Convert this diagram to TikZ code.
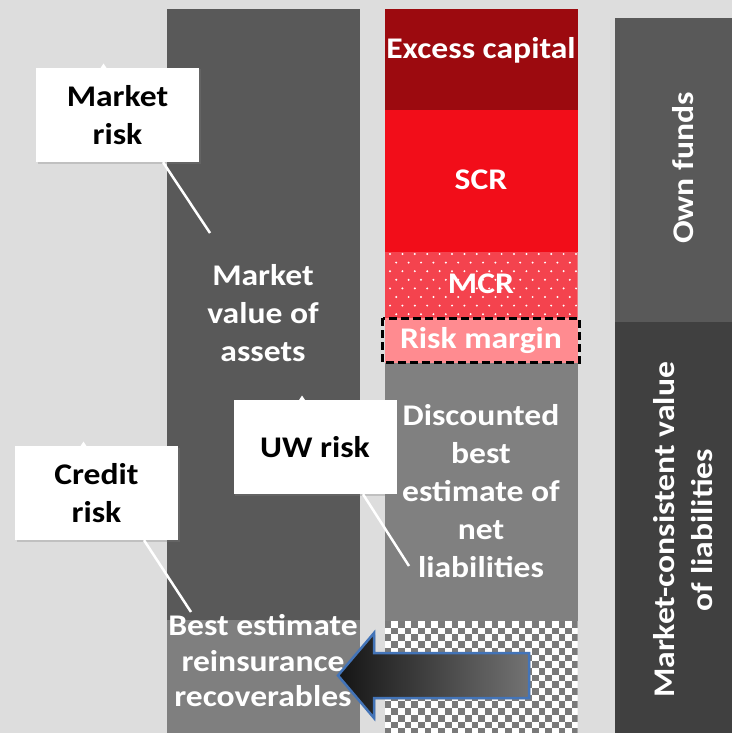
\documentclass[tikz,border=0pt]{standalone}
\usepackage{fontspec}
\setmainfont{Carlito}[FakeStretch=1.12]
\usetikzlibrary{shadows,calc}
\definecolor{bg}{HTML}{DDDDDD}
\definecolor{assetgray}{HTML}{595959}
\definecolor{recogray}{HTML}{7F7F7F}
\definecolor{excessred}{HTML}{9C0A0F}
\definecolor{scrred}{HTML}{F20D19}
\definecolor{mcrred}{HTML}{F4434E}
\definecolor{riskpink}{HTML}{FF8B90}
\definecolor{dbegray}{HTML}{808080}
\definecolor{chkgray}{HTML}{7A7A7A}
\definecolor{owngray}{HTML}{595959}
\definecolor{mcvgray}{HTML}{404040}
\definecolor{arrowblue}{HTML}{4374B8}
\begin{document}
\begin{tikzpicture}[x=1pt,y=-1pt,
  lbl/.style={text=white, font=\fontsize{30}{38}\selectfont\bfseries, align=center, inner sep=0pt},
  callout/.style={fill=white, minimum width=163pt, minimum height=94pt, align=center,
    text=black, font=\fontsize{30}{38}\selectfont\bfseries, inner sep=0pt,
    drop shadow={shadow xshift=1.5pt, shadow yshift=-1.5pt, opacity=0.3}},
  leader/.style={draw=white, line width=2.5pt}]
\useasboundingbox (0,0) rectangle (732,733);
\fill[bg] (0,0) rectangle (732,733);

% assets column
\fill[assetgray] (166.5,9) rectangle (359.5,733);
\fill[recogray] (166.5,620) rectangle (359.5,733);

% liabilities / capital column
\fill[excessred] (384.5,9) rectangle (577.5,110);
\fill[scrred] (384.5,110) rectangle (577.5,252);
\begin{scope}
  \clip (384.5,252) rectangle (577.5,318);
  \fill[mcrred] (384.5,252) rectangle (577.5,318);
  \foreach \k in {0,...,8}{\foreach \j in {0,...,16}{
    \fill[white] ({390+\j*12.4+mod(\k,2)*6.2},{254+\k*8.6}) circle (1.1);
  }}
\end{scope}
\fill[riskpink] (384.5,318) rectangle (577.5,363);
\fill[dbegray] (384.5,363) rectangle (577.5,621);
\begin{scope}
  \clip (384.5,621) rectangle (577.5,733);
  \fill[white] (384.5,621) rectangle (577.5,733);
  \foreach \i in {0,...,29}{\foreach \j in {0,...,17}{
    \pgfmathtruncatemacro\chk{mod(\i+\j,2)}
    \ifnum\chk=0 \fill[chkgray] ({384.5+\i*6.7},{621+\j*6.7}) rectangle ++(6.7,6.7);\fi
  }}
\end{scope}
\draw[black, line width=3pt, dash pattern=on 8pt off 4pt] (382.5,318) rectangle (579,362.5);

% right column
\fill[owngray] (615,18) rectangle (732,322);
\fill[mcvgray] (615,322) rectangle (732,733);

% labels in the columns
\node[lbl] (assets) at (263,313) {Market\\value of\\assets};
\node[lbl, font=\fontsize{30}{35.5}\selectfont\bfseries] (reco) at (263,661) {Best estimate\\reinsurance\\recoverables};
\node[lbl] (excess) at (481,50) {Excess capital};
\node[lbl] (scr) at (481,180) {SCR};
\node[lbl] (mcr) at (481,284) {MCR};
\node[lbl] (riskm) at (481,341) {Risk margin};
\node[lbl] (dbe) at (481,491) {Discounted\\best\\estimate of\\net\\liabilities};
\node[lbl, rotate=90] (own) at (683,168) {Own funds};
\node[lbl, rotate=90] (mcv) at (683,530) {Market-consistent value\\of liabilities};

% reinsurance arrow
\path[draw=arrowblue, line width=2.5pt, line join=miter, left color=black!92, right color=black!55,
  drop shadow={shadow xshift=1.5pt, shadow yshift=-1.5pt, opacity=0.3}]
  (529,653) -- (374,653) -- (374,633) -- (338,675.5) -- (374,718) -- (374,698) -- (529,698) -- cycle;

% risk callouts
\node[callout] (mrbox) at (117.5,115) {Market\\risk};
\fill[white] (100.5,68) -- (103.5,63.5) -- (106.5,68) -- cycle;
\coordinate (mrtip) at (210,233);
\draw[leader] ([xshift=45.5pt]mrbox.south) -- (mrtip);

\node[callout] (crbox) at (96.5,493) {Credit\\risk};
\fill[white] (80.5,446) -- (83.5,441.5) -- (86.5,446) -- cycle;
\coordinate (crtip) at (191,612);
\draw[leader] ([xshift=47.5pt]crbox.south) -- (crtip);

\node[callout] (uwbox) at (315,447) {UW risk};
\fill[white] (299,400) -- (302,395.5) -- (305,400) -- cycle;
\coordinate (uwtip) at (409,566);
\draw[leader] ([xshift=48pt]uwbox.south) -- (uwtip);
\end{tikzpicture}
\end{document}
